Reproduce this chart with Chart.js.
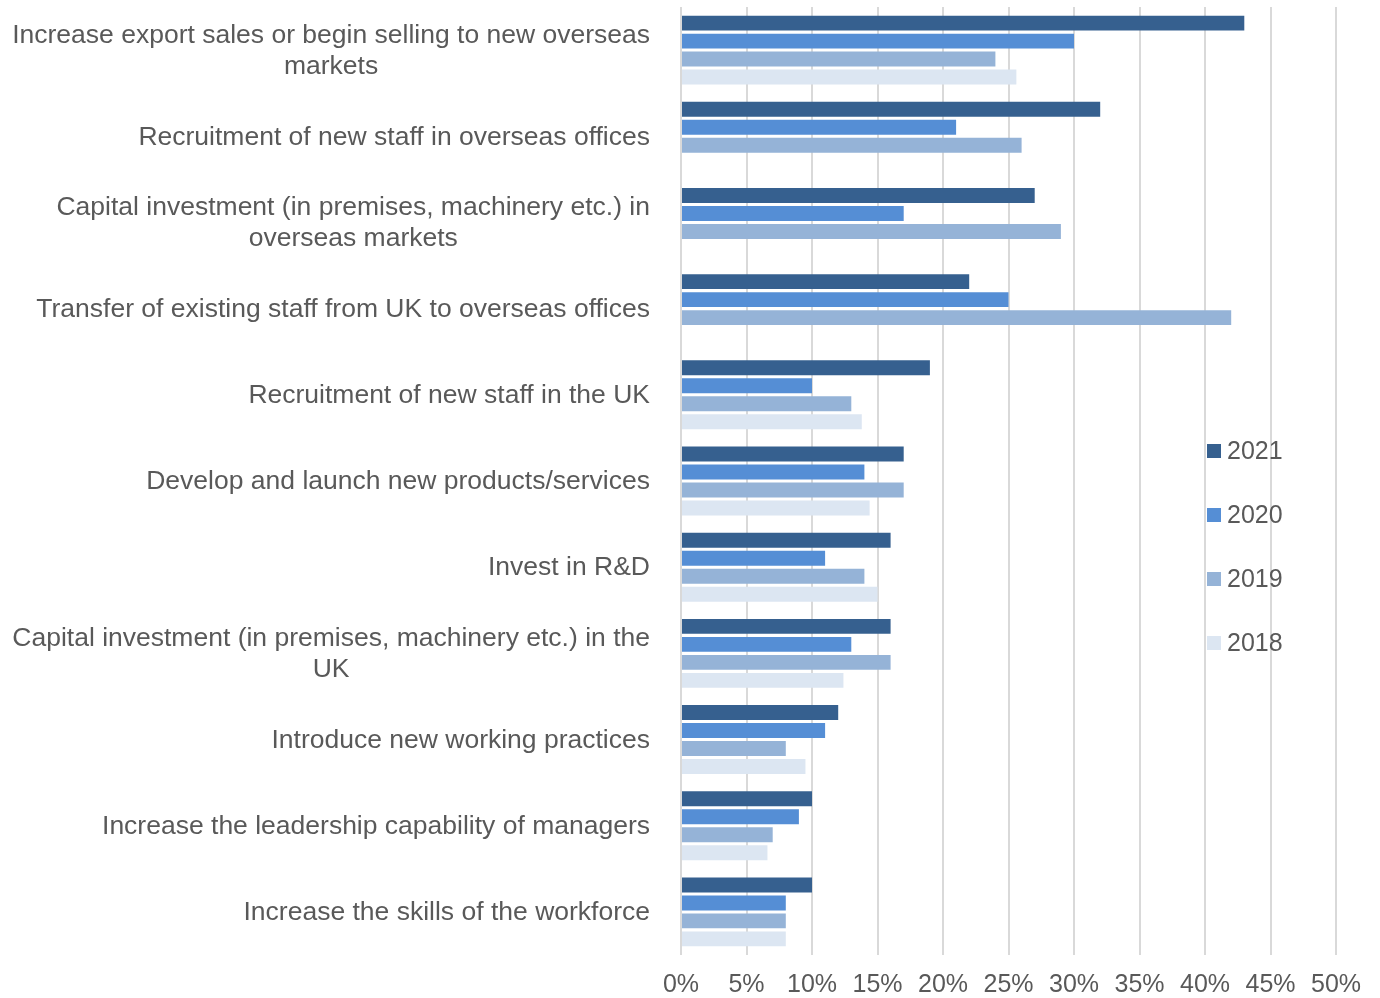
<!DOCTYPE html>
<html>
<head>
<meta charset="utf-8">
<script src="https://cdn.jsdelivr.net/npm/chart.js@4/dist/chart.umd.min.js"></script>
<style>
  html,body{margin:0;padding:0;background:#fff;}
  #c{display:block;}
</style>
</head>
<body>
<canvas id="c" width="1380" height="998"></canvas>
<script>
'use strict';

/* Kategorien (mehrzeilige als Array) */
const categories = [
  ['Increase export sales or begin selling to new overseas', 'markets'],
  'Recruitment of new staff in overseas offices',
  ['Capital investment (in premises, machinery etc.) in', 'overseas markets'],
  'Transfer of existing staff from UK to overseas offices',
  'Recruitment of new staff in the UK',
  'Develop and launch new products/services',
  'Invest in R&D',
  ['Capital investment (in premises, machinery etc.) in the', 'UK'],
  'Introduce new working practices',
  'Increase the leadership capability of managers',
  'Increase the skills of the workforce'
];

/* Werte in % */
const y2021 = [43, 32, 27, 22, 19, 17, 16, 16, 12, 10, 10];
const y2020 = [30, 21, 17, 25, 10, 14, 11, 13, 11, 9, 8];
const y2019 = [24, 26, 29, 42, 13, 17, 14, 16, 8, 7, 8];
const y2018 = [25.6, null, null, null, 13.8, 14.4, 15, 12.4, 9.5, 6.6, 8];

const seriesLabels = ['2021', '2020', '2019', '2018'];
const seriesColors = ['#36608f', '#558ed5', '#95b3d7', '#dce6f2'];
const xTicks = [0, 5, 10, 15, 20, 25, 30, 35, 40, 45, 50];

const FONT = 'Arial, "Liberation Sans", sans-serif';
const TXT = '#595959';

/* Kategorie-Beschriftungen: rechtsbündig als Block, Zeilen zentriert */
const catLabels = {
  id: 'catLabels',
  afterDraw(chart){
    const ctx = chart.ctx, ys = chart.scales.y;
    ctx.save();
    ctx.font = '26.5px ' + FONT;
    ctx.fillStyle = TXT;
    ctx.textAlign = 'center';
    ctx.textBaseline = 'middle';
    const right = 650, lh = 31;
    categories.forEach((lab, i) => {
      const lines = Array.isArray(lab) ? lab : [lab];
      const w = Math.max(...lines.map(l => ctx.measureText(l).width));
      const cx = right - w / 2;
      const cy = ys.getPixelForValue(i) + 1;
      const y0 = cy - (lines.length - 1) * lh / 2;
      lines.forEach((l, k) => ctx.fillText(l, cx, y0 + k * lh));
    });
    ctx.restore();
  }
};

/* Legende innerhalb der Zeichenfläche */
const sideLegend = {
  id: 'sideLegend',
  afterDraw(chart){
    const ctx = chart.ctx;
    ctx.save();
    ctx.font = '25px ' + FONT;
    ctx.textBaseline = 'middle';
    ctx.textAlign = 'left';
    chart.data.datasets.forEach((ds, i) => {
      const y = 451 + i * 64;
      ctx.fillStyle = ds.backgroundColor;
      ctx.fillRect(1207, y - 7, 14, 14);
      ctx.fillStyle = TXT;
      ctx.fillText(ds.label, 1227, y + 1);
    });
    ctx.restore();
  }
};

const allSeries = [y2021, y2020, y2019, y2018];

new Chart(document.getElementById('c'), {
  type: 'bar',
  data: {
    labels: categories.map(c => Array.isArray(c) ? c.join(' ') : c),
    datasets: allSeries.map((d, i) => ({
      label: seriesLabels[i],
      data: d,
      backgroundColor: seriesColors[i],
      borderWidth: 0,
      categoryPercentage: 0.835,
      barPercentage: 0.83
    }))
  },
  options: {
    indexAxis: 'y',
    responsive: false,
    animation: false,
    layout: { padding: { top: 7, right: 44, left: 0, bottom: 0 } },
    plugins: { legend: { display: false }, tooltip: { enabled: false } },
    scales: {
      x: {
        min: 0, max: 50,
        afterBuildTicks: s => { s.ticks = xTicks.map(v => ({ value: v })); },
        afterFit: s => { s.height = 43; },
        ticks: { callback: v => v + '%', color: TXT, font: { family: FONT, size: 25 }, padding: 15, maxRotation: 0 },
        grid: { color: '#d9d9d9', lineWidth: 2, drawTicks: false },
        border: { display: false }
      },
      y: {
        afterFit: s => { s.width = 681; },
        ticks: { display: false },
        grid: { display: false },
        border: { display: false }
      }
    }
  },
  plugins: [catLabels, sideLegend]
});
</script>
</body>
</html>
